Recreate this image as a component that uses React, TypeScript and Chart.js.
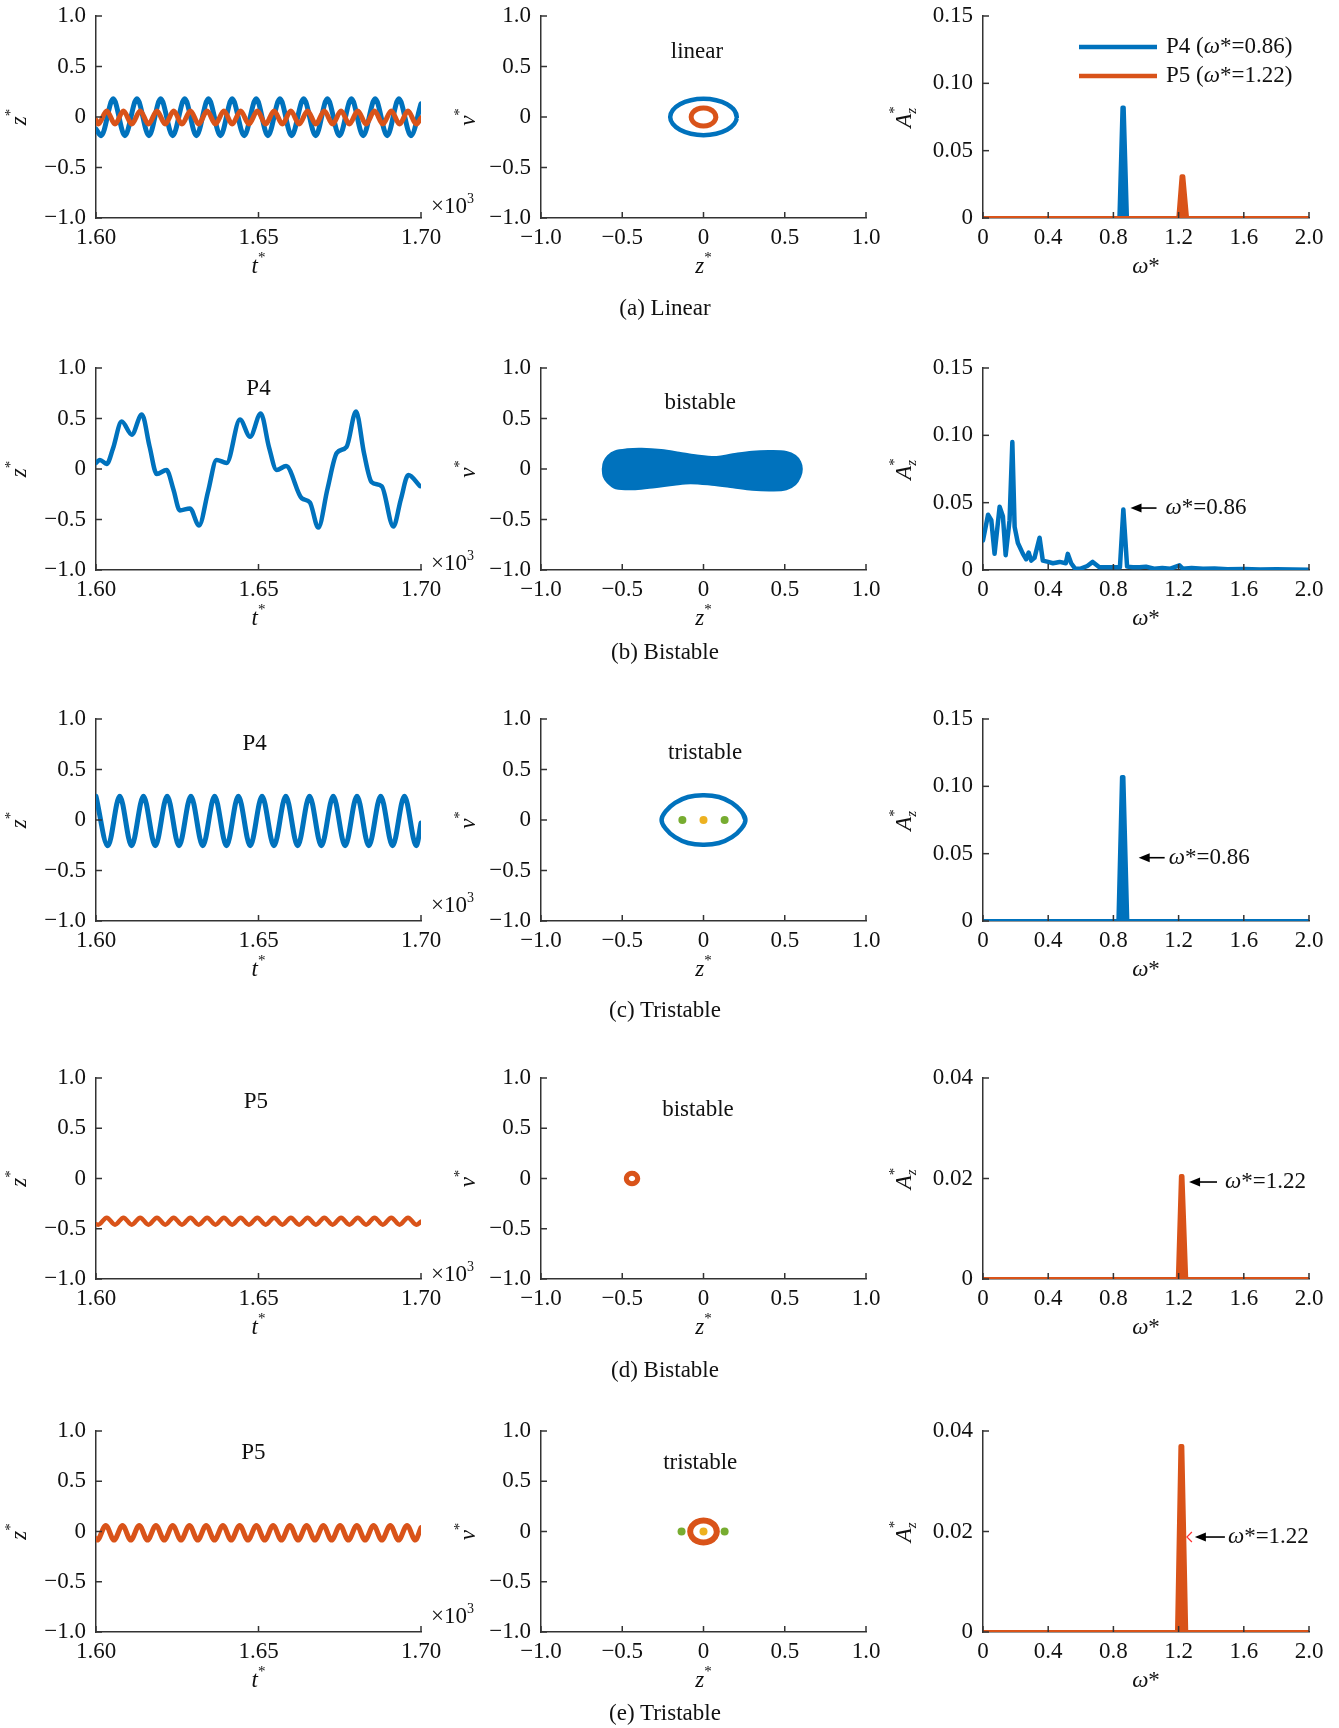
import React, { useEffect, useRef } from 'react';
import { Chart, registerables } from 'chart.js';

Chart.register(...registerables);

type Pt = [number, number];

// ---------- colours / fonts ----------
const BLUE = '#0072BD';
const ORANGE = '#D95319';
const GREEN = '#77AC30';
const YELLOW = '#EDB120';
const AXIS = '#333333';
const TEXT = '#111111';
const FONT = "'Liberation Serif', 'Times New Roman', serif";
const FS = 23;
Chart.defaults.font.family = FONT;

// ---------- ticks ----------
const timeTicks = [1.6, 1.65, 1.7];
const timeTickLabels = ['1.60', '1.65', '1.70'];
const unitTicks = [-1, -0.5, 0, 0.5, 1];
const unitTickLabels = ['\u22121.0', '\u22120.5', '0', '0.5', '1.0'];
const freqTicks = [0, 0.4, 0.8, 1.2, 1.6, 2.0];
const freqTickLabels = ['0', '0.4', '0.8', '1.2', '1.6', '2.0'];
const ampTicksLarge = [0, 0.05, 0.1, 0.15];
const ampTickLabelsLarge = ['0', '0.05', '0.10', '0.15'];
const ampTicksSmall = [0, 0.02, 0.04];
const ampTickLabelsSmall = ['0', '0.02', '0.04'];

// ---------- texts ----------
const captions = ['(a) Linear', '(b) Bistable', '(c) Tristable', '(d) Bistable', '(e) Tristable'];
const legendNames = ['P4', 'P5'];
const legendFreqs = ['0.86', '1.22'];

// ---------- (a) linear ----------
const p4LinearWave: Pt[] = [
  [1.6, -0.12], [1.6016, -0.185], [1.6053, 0.18], [1.6089, -0.185], [1.6126, 0.18], [1.6163, -0.185],
  [1.6199, 0.18], [1.6236, -0.185], [1.6273, 0.18], [1.6309, -0.185], [1.6346, 0.18], [1.6383, -0.185],
  [1.6419, 0.18], [1.6456, -0.185], [1.6493, 0.18], [1.6529, -0.185], [1.6566, 0.18], [1.6602, -0.185],
  [1.6639, 0.18], [1.6676, -0.185], [1.6712, 0.18], [1.6749, -0.185], [1.6786, 0.18], [1.6822, -0.185],
  [1.6859, 0.18], [1.6896, -0.185], [1.6932, 0.18], [1.6969, -0.185], [1.7, 0.13],
];
const p5LinearWave: Pt[] = [
  [1.6, -0.03], [1.6007, -0.07], [1.6033, 0.06], [1.60585, -0.07], [1.60845, 0.06], [1.611, -0.07],
  [1.6136, 0.06], [1.61615, -0.07], [1.61875, 0.06], [1.6213, -0.07], [1.6239, 0.06], [1.62645, -0.07],
  [1.62905, 0.06], [1.6316, -0.07], [1.6342, 0.06], [1.63675, -0.07], [1.63935, 0.06], [1.6419, -0.07],
  [1.6445, 0.06], [1.64705, -0.07], [1.64965, 0.06], [1.6522, -0.07], [1.6548, 0.06], [1.65735, -0.07],
  [1.65995, 0.06], [1.6625, -0.07], [1.6651, 0.06], [1.66765, -0.07], [1.67025, 0.06], [1.6728, -0.07],
  [1.6754, 0.06], [1.67795, -0.07], [1.68055, 0.06], [1.6831, -0.07], [1.6857, 0.06], [1.68825, -0.07],
  [1.69085, 0.06], [1.6934, -0.07], [1.696, 0.06], [1.69855, -0.07], [1.7, -0.01],
];
const p4LinearOrbit: Pt[] = [
  [0.205, 0], [0.189, 0.069], [0.145, 0.127], [0.078, 0.166], [0, 0.18], [-0.078, 0.166], [-0.145, 0.127],
  [-0.189, 0.069], [-0.205, 0], [-0.189, -0.069], [-0.145, -0.127], [-0.078, -0.166], [0, -0.18],
  [0.078, -0.166], [0.145, -0.127], [0.189, -0.069], [0.205, 0], [0.189, 0.069], [0.145, 0.127],
];
const p5LinearOrbit: Pt[] = [
  [0.076, 0], [0.066, 0.045], [0.038, 0.078], [0, 0.09], [-0.038, 0.078], [-0.066, 0.045], [-0.076, 0],
  [-0.066, -0.045], [-0.038, -0.078], [0, -0.09], [0.038, -0.078], [0.066, -0.045], [0.076, 0],
  [0.066, 0.045], [0.038, 0.078],
];
const p4LinearSpec: Pt[] = [[0, 0], [0.836, 0], [0.855, 0.082], [0.864, 0.082], [0.884, 0], [2.0, 0]];
const p5LinearSpec: Pt[] = [[0, 0], [1.198, 0], [1.218, 0.031], [1.229, 0.031], [1.252, 0], [2.0, 0]];

// ---------- (b) bistable P4 ----------
const p4BistableWave: Pt[] = [
  [1.6, 0.06], [1.6012, 0.09], [1.6033, 0.05], [1.6052, 0.2], [1.6079, 0.47], [1.611, 0.34],
  [1.6141, 0.54], [1.6165, 0.22], [1.6187, -0.05], [1.6217, -0.01], [1.6238, -0.2], [1.6258, -0.41],
  [1.6289, -0.39], [1.6317, -0.56], [1.6345, -0.22], [1.6371, 0.09], [1.6402, 0.06], [1.6443, 0.49],
  [1.6474, 0.32], [1.6507, 0.55], [1.6532, 0.22], [1.6556, -0.01], [1.6585, 0.03], [1.6633, -0.29],
  [1.6658, -0.33], [1.6684, -0.58], [1.6712, -0.2], [1.6741, 0.16], [1.6771, 0.22], [1.68, 0.57],
  [1.6825, 0.15], [1.6848, -0.13], [1.6879, -0.17], [1.6915, -0.57], [1.6938, -0.3], [1.6961, -0.06],
  [1.6997, -0.17],
];
const p4BistableBlob: Pt[] = [
  [-0.62, 0], [-0.612, 0.07], [-0.588, 0.13], [-0.545, 0.175], [-0.47, 0.195], [-0.38, 0.2],
  [-0.26, 0.188], [-0.15, 0.162], [-0.05, 0.135], [0.08, 0.118], [0.18, 0.145], [0.3, 0.172],
  [0.42, 0.178], [0.51, 0.168], [0.565, 0.13], [0.595, 0.07], [0.605, 0], [0.595, -0.075],
  [0.565, -0.15], [0.51, -0.2], [0.42, -0.212], [0.3, -0.205], [0.18, -0.18], [0.05, -0.155],
  [-0.08, -0.14], [-0.18, -0.155], [-0.3, -0.18], [-0.42, -0.2], [-0.54, -0.19], [-0.59, -0.135],
  [-0.615, -0.07], [-0.62, 0],
];
const p4BistableSpec: Pt[] = [
  [0, 0.022], [0.031, 0.041], [0.051, 0.037], [0.071, 0.012], [0.102, 0.047], [0.122, 0.04],
  [0.139, 0.011], [0.163, 0.037], [0.18, 0.095], [0.194, 0.032], [0.214, 0.02], [0.245, 0.012],
  [0.265, 0.008], [0.28, 0.013], [0.296, 0.007], [0.316, 0.009], [0.347, 0.024], [0.367, 0.007],
  [0.4, 0.006], [0.429, 0.005], [0.47, 0.006], [0.508, 0.005], [0.52, 0.012], [0.541, 0.005],
  [0.565, 0.001], [0.6, 0.001], [0.64, 0.003], [0.673, 0.006], [0.714, 0.002], [0.76, 0.002],
  [0.816, 0.002], [0.84, 0.002], [0.861, 0.045], [0.884, 0.0025], [0.92, 0.002], [0.96, 0.002],
  [1.0, 0.0025], [1.05, 0.001], [1.1, 0.0015], [1.15, 0.001], [1.205, 0.0035], [1.225, 0.001],
  [1.28, 0.0015], [1.35, 0.001], [1.42, 0.0012], [1.5, 0.0005], [1.6, 0.0008], [1.7, 0.0004],
  [1.8, 0.0006], [1.9, 0.0003], [2.0, 0.0002],
];

// ---------- (c) tristable P4 ----------
const p4TristableWave: Pt[] = [
  [1.6, 0.235], [1.60365, -0.255], [1.6073, 0.235], [1.61095, -0.255], [1.6146, 0.235], [1.61825, -0.255],
  [1.6219, 0.235], [1.62555, -0.255], [1.6292, 0.235], [1.63285, -0.255], [1.6365, 0.235], [1.64015, -0.255],
  [1.6438, 0.235], [1.64745, -0.255], [1.6511, 0.235], [1.65475, -0.255], [1.6584, 0.235], [1.66205, -0.255],
  [1.6657, 0.235], [1.66935, -0.255], [1.673, 0.235], [1.67665, -0.255], [1.6803, 0.235], [1.68395, -0.255],
  [1.6876, 0.235], [1.69125, -0.255], [1.6949, 0.235], [1.69855, -0.255], [1.7, -0.03],
];
const p4TristableOrbit: Pt[] = [
  [0.258, 0], [0.233, 0.085], [0.175, 0.17], [0.095, 0.228], [0, 0.245], [-0.095, 0.228], [-0.175, 0.17],
  [-0.233, 0.085], [-0.258, 0], [-0.233, -0.085], [-0.175, -0.17], [-0.095, -0.228], [0, -0.245],
  [0.095, -0.228], [0.175, -0.17], [0.233, -0.085], [0.258, 0], [0.233, 0.085], [0.175, 0.17],
];
const p4TristableStable: Pt[] = [[-0.13, 0], [0.13, 0]];
const p4TristableCentre: Pt[] = [[0, 0]];
const p4TristableSpec: Pt[] = [[0, 0], [0.83, 0], [0.852, 0.107], [0.862, 0.107], [0.886, 0], [2.0, 0]];

// ---------- (d) bistable P5 ----------
const p5BistableWave: Pt[] = [
  [1.6, -0.455], [1.6007, -0.46], [1.6033, -0.39], [1.60585, -0.46], [1.60845, -0.39], [1.611, -0.46],
  [1.6136, -0.39], [1.61615, -0.46], [1.61875, -0.39], [1.6213, -0.46], [1.6239, -0.39], [1.62645, -0.46],
  [1.62905, -0.39], [1.6316, -0.46], [1.6342, -0.39], [1.63675, -0.46], [1.63935, -0.39], [1.6419, -0.46],
  [1.6445, -0.39], [1.64705, -0.46], [1.64965, -0.39], [1.6522, -0.46], [1.6548, -0.39], [1.65735, -0.46],
  [1.65995, -0.39], [1.6625, -0.46], [1.6651, -0.39], [1.66765, -0.46], [1.67025, -0.39], [1.6728, -0.46],
  [1.6754, -0.39], [1.67795, -0.46], [1.68055, -0.39], [1.6831, -0.46], [1.6857, -0.39], [1.68825, -0.46],
  [1.69085, -0.39], [1.6934, -0.46], [1.696, -0.39], [1.69855, -0.46], [1.7, -0.43],
];
const p5BistableOrbit: Pt[] = [
  [-0.405, 0], [-0.41, 0.026], [-0.4225, 0.045], [-0.44, 0.052], [-0.4575, 0.045], [-0.47, 0.026],
  [-0.475, 0], [-0.47, -0.026], [-0.4575, -0.045], [-0.44, -0.052], [-0.4225, -0.045], [-0.41, -0.026],
  [-0.405, 0], [-0.41, 0.026], [-0.4225, 0.045],
];
const p5BistableSpec: Pt[] = [[0, 0], [1.195, 0], [1.214, 0.0205], [1.224, 0.0205], [1.247, 0], [2.0, 0]];

// ---------- (e) tristable P5 ----------
const p5TristableWave: Pt[] = [
  [1.6, -0.07], [1.6004, -0.085], [1.603, 0.06], [1.60555, -0.085], [1.60815, 0.06], [1.6107, -0.085],
  [1.6133, 0.06], [1.61585, -0.085], [1.61845, 0.06], [1.621, -0.085], [1.6236, 0.06], [1.62615, -0.085],
  [1.62875, 0.06], [1.6313, -0.085], [1.6339, 0.06], [1.63645, -0.085], [1.63905, 0.06], [1.6416, -0.085],
  [1.6442, 0.06], [1.64675, -0.085], [1.64935, 0.06], [1.6519, -0.085], [1.6545, 0.06], [1.65705, -0.085],
  [1.65965, 0.06], [1.6622, -0.085], [1.6648, 0.06], [1.66735, -0.085], [1.66995, 0.06], [1.6725, -0.085],
  [1.6751, 0.06], [1.67765, -0.085], [1.68025, 0.06], [1.6828, -0.085], [1.6854, 0.06], [1.68795, -0.085],
  [1.69055, 0.06], [1.6931, -0.085], [1.6957, 0.06], [1.69825, -0.085], [1.7, 0.04],
];
const p5TristableOrbit: Pt[] = [
  [0.082, 0], [0.071, 0.055], [0.041, 0.095], [0, 0.11], [-0.041, 0.095], [-0.071, 0.055], [-0.082, 0],
  [-0.071, -0.055], [-0.041, -0.095], [0, -0.11], [0.041, -0.095], [0.071, -0.055], [0.082, 0],
  [0.071, 0.055], [0.041, 0.095],
];
const p5TristableStable: Pt[] = [[-0.135, 0], [0.13, 0]];
const p5TristableCentre: Pt[] = [[0, 0]];
const p5TristableSpec: Pt[] = [[0, 0], [1.19, 0], [1.211, 0.037], [1.223, 0.037], [1.247, 0], [2.0, 0]];

// ---------- layout (page pixels) ----------
const rowPlot = [[16, 218], [368, 570], [719, 921], [1078, 1279], [1431, 1632]];
const colPlot = [[96, 421], [541, 866], [983, 1309]];
const colRightPad = [55, 40, 28];
const colYTitleDx = [-76, -72, -78];
const x10Dy = [-11, -6, -15, -4, -15];
const captionY = [308, 652, 1010, 1370, 1713];
const YW = 60;
const XH = 40;
const LEFT_EXTRA = 95;
const TOP_EXTRA = 16;
const BOTTOM_EXTRA = 70;

type Kind = 'mono' | 'loop' | 'straight' | 'spike' | 'blob' | 'dots';
type Series = { data: Pt[]; color: string; width: number; kind: Kind };
type Label = { x: number; y: number; text: string };
type Arrow = { x: number; y: number; len: number; gap: number; text: string; red?: boolean };
type Panel = {
  row: number;
  col: number;
  series: Series[];
  xKind: 'time' | 'unit' | 'freq';
  yKind: 'unit' | 'ampL' | 'ampS';
  labels?: Label[];
  arrows?: Arrow[];
  legend?: boolean;
};

const AXES: Record<string, { min: number; max: number; ticks: number[]; labels: string[] }> = {
  time: { min: 1.6, max: 1.7, ticks: timeTicks, labels: timeTickLabels },
  unit: { min: -1, max: 1, ticks: unitTicks, labels: unitTickLabels },
  freq: { min: 0, max: 2, ticks: freqTicks, labels: freqTickLabels },
  ampL: { min: 0, max: 0.15, ticks: ampTicksLarge, labels: ampTickLabelsLarge },
  ampS: { min: 0, max: 0.04, ticks: ampTicksSmall, labels: ampTickLabelsSmall },
};

const panels: Panel[] = [
  // row a
  { row: 0, col: 0, xKind: 'time', yKind: 'unit',
    series: [{ data: p5LinearWave, color: ORANGE, width: 5, kind: 'mono' }, { data: p4LinearWave, color: BLUE, width: 5, kind: 'mono' }] },
  { row: 0, col: 1, xKind: 'unit', yKind: 'unit', labels: [{ x: -0.04, y: 0.64, text: 'linear' }],
    series: [{ data: p5LinearOrbit, color: ORANGE, width: 5, kind: 'loop' }, { data: p4LinearOrbit, color: BLUE, width: 4.5, kind: 'loop' }] },
  { row: 0, col: 2, xKind: 'freq', yKind: 'ampL', legend: true,
    series: [{ data: p5LinearSpec, color: ORANGE, width: 4, kind: 'spike' }, { data: p4LinearSpec, color: BLUE, width: 4, kind: 'spike' }] },
  // row b
  { row: 1, col: 0, xKind: 'time', yKind: 'unit', labels: [{ x: 1.65, y: 0.79, text: 'P4' }],
    series: [{ data: p4BistableWave, color: BLUE, width: 4.5, kind: 'mono' }] },
  { row: 1, col: 1, xKind: 'unit', yKind: 'unit', labels: [{ x: -0.02, y: 0.65, text: 'bistable' }],
    series: [{ data: p4BistableBlob, color: BLUE, width: 2, kind: 'blob' }] },
  { row: 1, col: 2, xKind: 'freq', yKind: 'ampL', arrows: [{ x: 0.905, y: 0.046, len: 26, gap: 9, text: '0.86' }],
    series: [{ data: p4BistableSpec, color: BLUE, width: 4.5, kind: 'straight' }] },
  // row c
  { row: 2, col: 0, xKind: 'time', yKind: 'unit', labels: [{ x: 1.6488, y: 0.75, text: 'P4' }],
    series: [{ data: p4TristableWave, color: BLUE, width: 5, kind: 'mono' }] },
  { row: 2, col: 1, xKind: 'unit', yKind: 'unit', labels: [{ x: 0.01, y: 0.66, text: 'tristable' }],
    series: [
      { data: p4TristableStable, color: GREEN, width: 4, kind: 'dots' },
      { data: p4TristableCentre, color: YELLOW, width: 4, kind: 'dots' },
      { data: p4TristableOrbit, color: BLUE, width: 4.5, kind: 'loop' },
    ] },
  { row: 2, col: 2, xKind: 'freq', yKind: 'ampL', arrows: [{ x: 0.955, y: 0.047, len: 26, gap: 4, text: '0.86' }],
    series: [{ data: p4TristableSpec, color: BLUE, width: 4, kind: 'spike' }] },
  // row d
  { row: 3, col: 0, xKind: 'time', yKind: 'unit', labels: [{ x: 1.6492, y: 0.76, text: 'P5' }],
    series: [{ data: p5BistableWave, color: ORANGE, width: 4.5, kind: 'mono' }] },
  { row: 3, col: 1, xKind: 'unit', yKind: 'unit', labels: [{ x: -0.034, y: 0.68, text: 'bistable' }],
    series: [{ data: p5BistableOrbit, color: ORANGE, width: 5, kind: 'loop' }] },
  { row: 3, col: 2, xKind: 'freq', yKind: 'ampS', arrows: [{ x: 1.264, y: 0.0193, len: 28, gap: 8, text: '1.22' }],
    series: [{ data: p5BistableSpec, color: ORANGE, width: 4, kind: 'spike' }] },
  // row e
  { row: 4, col: 0, xKind: 'time', yKind: 'unit', labels: [{ x: 1.6484, y: 0.78, text: 'P5' }],
    series: [{ data: p5TristableWave, color: ORANGE, width: 5, kind: 'mono' }] },
  { row: 4, col: 1, xKind: 'unit', yKind: 'unit', labels: [{ x: -0.02, y: 0.68, text: 'tristable' }],
    series: [
      { data: p5TristableCentre, color: YELLOW, width: 4, kind: 'dots' },
      { data: p5TristableOrbit, color: ORANGE, width: 6, kind: 'loop' },
      { data: p5TristableStable, color: GREEN, width: 4, kind: 'dots' },
    ] },
  { row: 4, col: 2, xKind: 'freq', yKind: 'ampS', arrows: [{ x: 1.3, y: 0.0189, len: 30, gap: 3, text: '1.22', red: true }],
    series: [{ data: p5TristableSpec, color: ORANGE, width: 4, kind: 'spike' }] },
];

function geom(p: Panel) {
  const [pl, pr] = colPlot[p.col];
  const [pt, pb] = rowPlot[p.row];
  const rp = colRightPad[p.col];
  const l = pl - LEFT_EXTRA;
  const t = pt - TOP_EXTRA;
  return { l, t, w: pr + rp - l, h: pb + BOTTOM_EXTRA - t, rp };
}

type Run = { t: string; it?: boolean; sz?: number; dy?: number; stack?: boolean };

function drawRuns(ctx: CanvasRenderingContext2D, runs: Run[], x: number, y: number, align: 'left' | 'center') {
  const widths: number[] = [];
  let total = 0;
  runs.forEach((r, i) => {
    ctx.font = `${r.it ? 'italic ' : ''}${r.sz ?? FS}px ${FONT}`;
    const w = ctx.measureText(r.t).width;
    widths.push(w);
    if (r.stack && i > 0) total += Math.max(0, w - widths[i - 1]);
    else total += w;
  });
  let cx = align === 'center' ? x - total / 2 : x;
  ctx.textAlign = 'left';
  ctx.textBaseline = 'middle';
  ctx.fillStyle = TEXT;
  runs.forEach((r, i) => {
    ctx.font = `${r.it ? 'italic ' : ''}${r.sz ?? FS}px ${FONT}`;
    let sx = cx;
    if (r.stack && i > 0) sx = cx - widths[i - 1];
    ctx.fillText(r.t, sx, y + (r.dy ?? 0));
    cx = Math.max(cx, sx + widths[i]);
  });
}

const star = (letter: string): Run[] => [{ t: letter, it: true }, { t: '*', sz: 15, dy: -9 }];
const omegaRuns: Run[] = [{ t: '\u03C9', it: true }, { t: '*' }];
const ampRuns: Run[] = [{ t: 'A', it: true }, { t: '*', sz: 15, dy: -10 }, { t: 'z', it: true, sz: 15, dy: 7, stack: true }];

function makeDecor(p: Panel) {
  return {
    id: `decor_${p.row}_${p.col}`,
    afterDraw(chart: any) {
      const ctx: CanvasRenderingContext2D = chart.ctx;
      const xs = chart.scales.x;
      const ys = chart.scales.y;
      const { left, right, top, bottom } = chart.chartArea;
      ctx.save();
      // inward tick marks
      ctx.strokeStyle = AXIS;
      ctx.lineWidth = 1.5;
      for (const tk of xs.ticks) {
        const px = xs.getPixelForValue(tk.value);
        ctx.beginPath();
        ctx.moveTo(px, bottom);
        ctx.lineTo(px, bottom - 6);
        ctx.stroke();
      }
      for (const tk of ys.ticks) {
        const py = ys.getPixelForValue(tk.value);
        ctx.beginPath();
        ctx.moveTo(left, py);
        ctx.lineTo(left + 6, py);
        ctx.stroke();
      }
      // axis titles
      const xRuns = p.col === 0 ? star('t') : p.col === 1 ? star('z') : omegaRuns;
      drawRuns(ctx, xRuns, (left + right) / 2, bottom + 49, 'center');
      const yRuns = p.col === 0 ? star('z') : p.col === 1 ? star('v') : ampRuns;
      ctx.save();
      ctx.translate(left + colYTitleDx[p.col], (top + bottom) / 2);
      ctx.rotate(-Math.PI / 2);
      drawRuns(ctx, yRuns, 0, 0, 'center');
      ctx.restore();
      // x10^3
      if (p.col === 0) {
        drawRuns(ctx, [{ t: '\u00D710' }, { t: '3', sz: 14, dy: -8 }], right + 10, bottom + x10Dy[p.row], 'left');
      }
      // in-plot labels
      for (const lb of p.labels ?? []) {
        drawRuns(ctx, [{ t: lb.text }], xs.getPixelForValue(lb.x), ys.getPixelForValue(lb.y), 'center');
      }
      // arrows
      for (const a of p.arrows ?? []) {
        const tx = xs.getPixelForValue(a.x);
        const ty = ys.getPixelForValue(a.y);
        ctx.strokeStyle = '#000';
        ctx.fillStyle = '#000';
        ctx.lineWidth = 1.6;
        ctx.beginPath();
        ctx.moveTo(tx + 8, ty);
        ctx.lineTo(tx + a.len, ty);
        ctx.stroke();
        ctx.beginPath();
        ctx.moveTo(tx, ty);
        ctx.lineTo(tx + 11, ty - 4.5);
        ctx.lineTo(tx + 11, ty + 4.5);
        ctx.closePath();
        ctx.fill();
        if (a.red) {
          ctx.strokeStyle = '#ff3030';
          ctx.lineWidth = 1.2;
          ctx.beginPath();
          ctx.moveTo(tx - 3, ty - 5);
          ctx.lineTo(tx - 8, ty);
          ctx.lineTo(tx - 3, ty + 5);
          ctx.stroke();
        }
        drawRuns(ctx, [{ t: '\u03C9', it: true }, { t: '*=' + a.text }], tx + a.len + a.gap, ty, 'left');
      }
      // legend
      if (p.legend) {
        const cols = [BLUE, ORANGE];
        const dys = [31, 60];
        for (let i = 0; i < 2; i++) {
          const y = top + dys[i];
          ctx.strokeStyle = cols[i];
          ctx.lineWidth = 4.5;
          ctx.beginPath();
          ctx.moveTo(left + 96, y);
          ctx.lineTo(left + 174, y);
          ctx.stroke();
          drawRuns(ctx, [{ t: legendNames[i] + ' (' }, { t: '\u03C9', it: true }, { t: '*=' + legendFreqs[i] + ')' }], left + 183, y, 'left');
        }
      }
      ctx.restore();
    },
  };
}

function makeDataset(s: Series, i: number) {
  const ds: any = {
    data: s.data.map(([x, y]) => ({ x, y })),
    borderColor: s.color,
    backgroundColor: s.color,
    borderWidth: s.width,
    pointRadius: 0,
    pointHoverRadius: 0,
    fill: false,
    order: i,
    borderCapStyle: 'round',
    borderJoinStyle: 'round',
  };
  if (s.kind === 'mono') {
    ds.cubicInterpolationMode = 'monotone';
    ds.tension = 0.4;
  } else if (s.kind === 'loop') {
    ds.tension = 0.45;
  } else if (s.kind === 'blob') {
    ds.tension = 0.35;
    ds.fill = 'shape';
  } else if (s.kind === 'dots') {
    ds.showLine = false;
    ds.pointRadius = s.width;
    ds.pointBorderWidth = 0;
    ds.pointBackgroundColor = s.color;
    ds.borderWidth = 0;
  } else if (s.kind === 'spike') {
    ds.tension = 0;
    ds.fill = 'origin';
  } else {
    ds.tension = 0;
  }
  return ds;
}

function axisOptions(kind: string, isX: boolean, onTop: boolean) {
  const a = AXES[kind];
  return {
    type: 'linear',
    min: a.min,
    max: a.max,
    z: onTop ? 1 : 0,
    afterBuildTicks: (s: any) => {
      s.ticks = a.ticks.map((v) => ({ value: v }));
    },
    afterFit: (s: any) => {
      if (isX) s.height = XH;
      else s.width = YW;
      s.paddingLeft = 0;
      s.paddingRight = 0;
      s.paddingTop = 0;
      s.paddingBottom = 0;
    },
    ticks: {
      callback: (_v: any, i: number) => a.labels[i],
      font: { family: FONT, size: FS },
      color: TEXT,
      padding: isX ? 6 : 10,
      autoSkip: false,
      maxRotation: 0,
      minRotation: 0,
    },
    grid: { display: false, drawTicks: false },
    border: { display: true, color: AXIS, width: 1.5 },
  };
}

function buildConfig(p: Panel) {
  const g = geom(p);
  return {
    type: 'line',
    data: { datasets: p.series.map((s, i) => makeDataset(s, i)) },
    options: {
      responsive: false,
      animation: false,
      devicePixelRatio: 1,
      events: [],
      layout: {
        padding: { left: LEFT_EXTRA - YW, top: TOP_EXTRA, right: g.rp, bottom: BOTTOM_EXTRA - XH },
      },
      plugins: {
        legend: { display: false },
        tooltip: { enabled: false },
        title: { display: false },
      },
      scales: {
        x: axisOptions(p.xKind, true, p.col === 2),
        y: axisOptions(p.yKind, false, false),
      },
    },
    plugins: [makeDecor(p)],
  };
}

function PanelChart({ p }: { p: Panel }) {
  const ref = useRef<HTMLCanvasElement | null>(null);
  useEffect(() => {
    if (!ref.current) return;
    const chart = new Chart(ref.current, buildConfig(p) as any);
    return () => chart.destroy();
  }, [p]);
  const g = geom(p);
  return (
    <canvas
      ref={ref}
      width={g.w}
      height={g.h}
      style={{ position: 'absolute', left: g.l, top: g.t, width: g.w, height: g.h }}
    />
  );
}

export default function App() {
  return (
    <div style={{ position: 'absolute', left: 0, top: 0, width: 1339, height: 1728, background: '#fff', overflow: 'hidden' }}>
      {panels.map((p) => (
        <PanelChart key={`${p.row}-${p.col}`} p={p} />
      ))}
      {captions.map((c, i) => (
        <div
          key={c + i}
          style={{
            position: 'absolute',
            left: 465,
            width: 400,
            top: captionY[i] - 14,
            height: 28,
            lineHeight: '28px',
            textAlign: 'center',
            fontFamily: FONT,
            fontSize: FS,
            color: TEXT,
          }}
        >
          {c}
        </div>
      ))}
    </div>
  );
}
